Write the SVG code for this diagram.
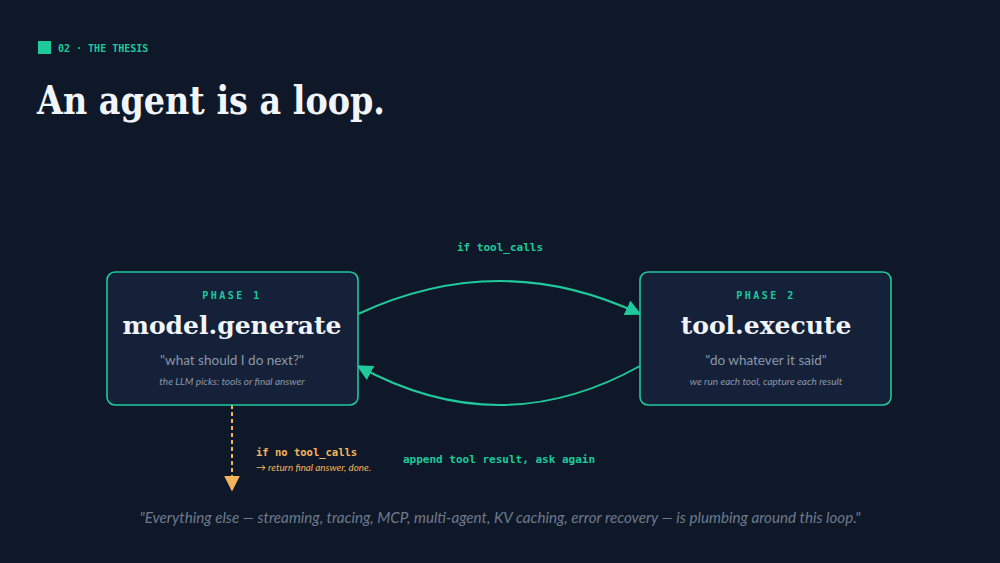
<svg xmlns="http://www.w3.org/2000/svg" width="1000" height="563" viewBox="0 0 1000 563">
<style>
.mono{font-family:"DejaVu Sans Mono",monospace}
.serif{font-family:"DejaVu Serif",serif;font-weight:bold;fill:#f1f4f8}
.lato{font-family:Lato,"Noto Sans",sans-serif}
.box{fill:#142139;stroke:#1fc99a;stroke-width:1.6}
</style>
<defs>
<marker id="a" viewBox="0 0 10 10" refX="9" refY="5" markerWidth="16" markerHeight="16" orient="auto" markerUnits="userSpaceOnUse"><path d="M0,0L10,5L0,10z" fill="#1fc99a"/></marker>
<marker id="ao" viewBox="0 0 10 10" refX="9" refY="5" markerWidth="16" markerHeight="16" orient="auto" markerUnits="userSpaceOnUse"><path d="M0,0L10,5L0,10z" fill="#f5b45a"/></marker>
</defs>
<rect width="1000" height="563" fill="#0e1829"/>
<rect x="38" y="41" width="13" height="13" fill="#1fc99a"/>
<text x="58" y="52" class="mono" font-size="10" font-weight="bold" fill="#1fc99a">02 · THE THESIS</text>
<text x="37" y="114" class="serif" font-size="39" textLength="348" lengthAdjust="spacingAndGlyphs">An agent is a loop.</text>
<g id="connectors" fill="none">
<path d="M358,314 Q500,248 640,314" stroke="#1fc99a" stroke-width="2" marker-end="url(#a)"/>
<path d="M640,366 Q500,444 358,366" stroke="#1fc99a" stroke-width="2" marker-end="url(#a)"/>
<path d="M232,405 L232,490" stroke="#f5b45a" stroke-width="2" stroke-dasharray="4,3" marker-end="url(#ao)"/>
<text x="500" y="251" class="mono" font-size="11" font-weight="bold" fill="#1fc99a" text-anchor="middle" stroke="none">if tool_calls</text>
<text x="499" y="463" class="mono" font-size="11" font-weight="bold" fill="#1fc99a" text-anchor="middle" stroke="none">append tool result, ask again</text>
<text x="256" y="456" class="mono" font-size="10.5" font-weight="bold" fill="#f5b45a" stroke="none">if no tool_calls</text>
<text x="256" y="471" class="lato" font-size="9.8" font-style="italic" fill="#f5b45a" stroke="none">→ return final answer, done.</text>
</g>
<g id="phase1">
<rect x="107" y="272" width="251" height="133" rx="8" class="box"/>
<text x="232" y="299" class="mono" font-size="10" font-weight="bold" fill="#1fc99a" text-anchor="middle" letter-spacing="2.5">PHASE 1</text>
<text x="232" y="334" class="serif" font-size="25" text-anchor="middle">model.generate</text>
<text x="232" y="365" class="lato" font-size="13.5" fill="#8c97a8" text-anchor="middle">"what should I do next?"</text>
<text x="232" y="385" class="lato" font-size="10" font-style="italic" fill="#8c97a8" text-anchor="middle">the LLM picks: tools or final answer</text>
</g>
<g id="phase2">
<rect x="640" y="272" width="251" height="133" rx="8" class="box"/>
<text x="766" y="299" class="mono" font-size="10" font-weight="bold" fill="#1fc99a" text-anchor="middle" letter-spacing="2.5">PHASE 2</text>
<text x="766" y="334" class="serif" font-size="25" text-anchor="middle">tool.execute</text>
<text x="766" y="365" class="lato" font-size="13.5" fill="#8c97a8" text-anchor="middle">"do whatever it said"</text>
<text x="766" y="385" class="lato" font-size="10" font-style="italic" fill="#8c97a8" text-anchor="middle">we run each tool, capture each result</text>
</g>
<text x="500" y="523" class="lato" font-size="15.2" font-style="italic" fill="#6f7a8c" text-anchor="middle">"Everything else — streaming, tracing, MCP, multi-agent, KV caching, error recovery — is plumbing around this loop."</text>
</svg>
